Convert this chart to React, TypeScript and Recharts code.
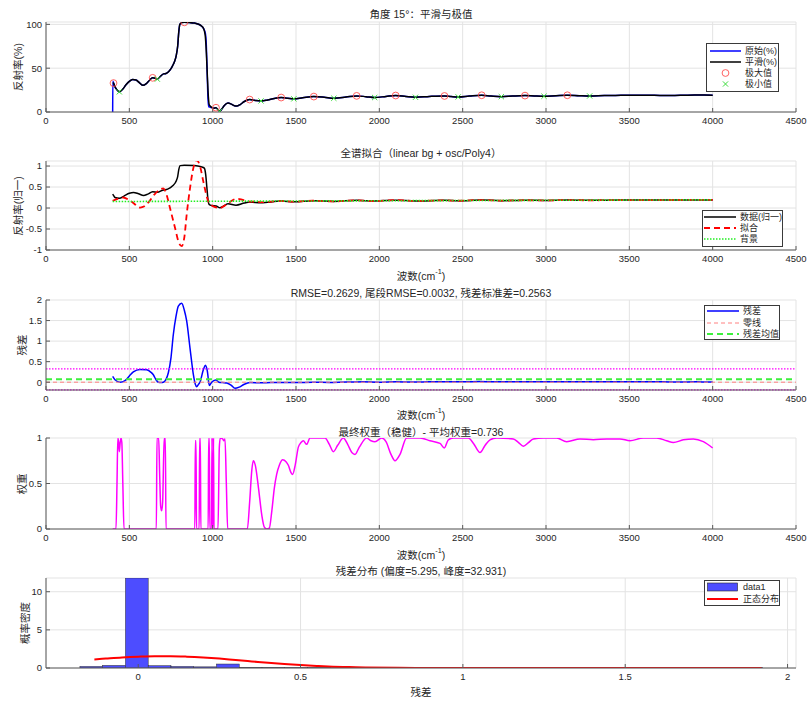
import React from 'react';
import { LineChart, ComposedChart, Line, Bar, XAxis, YAxis, CartesianGrid, ReferenceLine } from 'recharts';

type P = [number, number];

// ---------- data ----------
const wnTicks = [0, 500, 1000, 1500, 2000, 2500, 3000, 3500, 4000, 4500];

const smoothPts: P[] = [
  [400, 33], [405, 33], [412, 29.5], [425, 25.5], [440, 23], [460, 26], [480, 31], [500, 35], [520, 37],
  [540, 36.5], [560, 33.5], [582, 30.4], [600, 32], [620, 36], [640, 39], [655, 38.6], [668, 37.5], [685, 40.5],
  [705, 43.5], [720, 44], [735, 46], [748, 49], [760, 53], [772, 58], [782, 65], [790, 75], [797, 92], [803, 100],
  [815, 102], [830, 102.3], [860, 102], [890, 101.5], [910, 100.5], [930, 98.5], [945, 95.5], [955, 88], [962, 68],
  [968, 42], [974, 18], [980, 8], [990, 6], [1005, 4.3], [1020, 4.9], [1032, 2.5], [1042, 0.8], [1055, 3.5],
  [1070, 7.5], [1092, 10.2], [1112, 9], [1130, 7.2], [1145, 6.8], [1165, 8.5], [1190, 12], [1222, 14.2],
  [1255, 13.2], [1290, 12.6], [1330, 13.8], [1370, 15.5], [1411, 16.5], [1450, 15.8], [1487, 15], [1540, 16.2],
  [1607, 17.6], [1670, 16.8], [1727, 15.7], [1800, 17], [1864, 18.4], [1920, 17.5], [1972, 16.5], [2040, 17.8],
  [2098, 18.8], [2160, 17.6], [2217, 16.8], [2300, 17.7], [2391, 18.3], [2430, 17.7], [2473, 17.2], [2540, 18.2],
  [2614, 19.1], [2670, 18.2], [2732, 17.5], [2800, 18.2], [2874, 18.7], [2930, 18.3], [2988, 18], [3060, 18.6],
  [3128, 19.1], [3200, 18.6], [3262, 18.3], [3350, 18.8], [3450, 19], [3550, 19.2], [3650, 19], [3750, 18.8],
  [3850, 19.2], [3950, 19.3], [4000, 19.2],
];

const rawPts: P[] = [
  [400, 0], [401, 35], [405, 33.4], [412, 29.5], [425, 25.5], [440, 23], [460, 26], [480, 31], [500, 35], [520, 37],
  [540, 36.5], [560, 33.5], [582, 30.4], [600, 32], [620, 36], [640, 39], [655, 38.6], [668, 37.5], [685, 40.5],
  [705, 43.5], [720, 44], [735, 46], [748, 49], [760, 53], [772, 58], [782, 65], [790, 75], [797, 92], [803, 100],
  [815, 102], [830, 102.3], [860, 102], [890, 101.5], [910, 100.5], [930, 98.5], [945, 95.5], [956, 90], [962, 76],
  [967, 45], [972, 15], [977, 6], [986, 5.5], [1005, 4.3], [1020, 4.9], [1032, 2.5], [1042, 0.8], [1055, 3.5],
  [1070, 7.5], [1092, 10.2], [1112, 9], [1130, 7.2], [1145, 6.8], [1165, 8.5], [1190, 12], [1222, 14.2],
  [1255, 13.2], [1290, 12.6], [1330, 13.8], [1370, 15.5], [1411, 16.5], [1450, 15.8], [1487, 15], [1540, 16.2],
  [1607, 17.6], [1670, 16.8], [1727, 15.7], [1800, 17], [1864, 18.4], [1920, 17.5], [1972, 16.5], [2040, 17.8],
  [2098, 18.8], [2160, 17.6], [2217, 16.8], [2300, 17.7], [2391, 18.3], [2430, 17.7], [2473, 17.2], [2540, 18.2],
  [2614, 19.1], [2670, 18.2], [2732, 17.5], [2800, 18.2], [2874, 18.7], [2930, 18.3], [2988, 18], [3060, 18.6],
  [3128, 19.1], [3200, 18.6], [3262, 18.3], [3350, 18.8], [3450, 19], [3550, 19.2], [3650, 19], [3750, 18.8],
  [3850, 19.2], [3950, 19.3], [4000, 19.2],
];

const maximaPts: P[] = [
  [405, 33], [640, 39], [830, 102.3], [1020, 4.9], [1222, 14.2], [1411, 16.5], [1607, 17.6], [1864, 18.4],
  [2098, 18.8], [2391, 18.3], [2614, 19.1], [2874, 18.7], [3128, 19.1],
];
const minimaPts: P[] = [
  [440, 23], [668, 37.5], [1042, 0.8], [1290, 12.6], [1487, 15], [1727, 15.7], [1972, 16.5], [2217, 16.8],
  [2473, 17.2], [2732, 17.5], [2988, 18], [3262, 18.3],
];

const normPts: P[] = [
  [400, 0.33], [405, 0.3], [414, 0.25], [440, 0.23], [470, 0.29], [500, 0.35], [525, 0.37], [555, 0.34],
  [585, 0.3], [610, 0.33], [640, 0.39], [668, 0.375], [700, 0.425], [730, 0.45], [760, 0.53], [782, 0.65],
  [790, 0.75], [797, 0.92], [805, 1.01], [830, 1.02], [890, 1.015], [930, 0.985], [950, 0.95], [958, 0.8],
  [965, 0.5], [972, 0.2], [980, 0.08], [995, 0.06], [1020, 0.05], [1044, 0.005], [1062, 0.04], [1092, 0.1],
  [1140, 0.068], [1190, 0.12], [1222, 0.142], [1290, 0.126], [1411, 0.165], [1487, 0.15], [1607, 0.176],
  [1727, 0.157], [1864, 0.184], [1972, 0.165], [2098, 0.188], [2217, 0.168], [2391, 0.183], [2473, 0.172],
  [2614, 0.191], [2732, 0.175], [2874, 0.187], [2988, 0.18], [3128, 0.191], [3262, 0.183], [3450, 0.19],
  [3650, 0.19], [3850, 0.192], [4000, 0.192],
];

const fitPts: P[] = [
  [400, 0.17], [430, 0.22], [464, 0.25], [495, 0.2], [524, 0.12], [545, 0.05], [565, 0.01], [590, 0.04],
  [620, 0.16], [650, 0.32], [680, 0.43], [704, 0.47], [724, 0.31], [744, 0.0], [774, -0.47], [795, -0.8],
  [814, -0.91], [830, -0.7], [844, -0.16], [864, 0.47], [884, 0.95], [904, 1.14], [924, 1.0], [944, 0.63],
  [974, 0.16], [1004, 0.04], [1044, 0.0], [1084, 0.09], [1144, 0.22], [1175, 0.2], [1210, 0.16], [1250, 0.15],
  [1300, 0.14], [1400, 0.165], [1500, 0.152], [1600, 0.175], [1730, 0.158], [1860, 0.183], [1970, 0.166],
  [2100, 0.187], [2220, 0.169], [2390, 0.182], [2470, 0.173], [2610, 0.19], [2730, 0.176], [2870, 0.186],
  [2990, 0.181], [3130, 0.19], [3260, 0.184], [3450, 0.19], [3650, 0.19], [3850, 0.192], [4000, 0.192],
];

const bgPts: P[] = [[400, 0.155], [4000, 0.195]];

const residPts: P[] = [
  [400, 0.14], [414, 0.06], [444, 0.0], [474, 0.04], [500, 0.15], [524, 0.25], [564, 0.31], [604, 0.3],
  [630, 0.24], [644, 0.18], [660, 0.06], [674, 0.0], [690, -0.01], [704, 0.0], [720, 0.07], [734, 0.23],
  [750, 0.6], [764, 1.16], [780, 1.6], [794, 1.85], [814, 1.92], [830, 1.75], [844, 1.49], [864, 0.83],
  [884, 0.19], [896, -0.05], [904, -0.11], [914, -0.06], [924, 0.0], [944, 0.3], [956, 0.41], [968, 0.27],
  [980, -0.08], [994, 0.0], [1018, 0.055], [1038, 0.0], [1060, -0.01], [1084, -0.02], [1110, -0.07],
  [1134, -0.15], [1160, -0.12], [1190, -0.05], [1224, -0.01], [1300, -0.015], [1400, -0.005], [1500, -0.01],
  [1600, 0.0], [1700, -0.005], [1800, 0.005], [1900, 0.008], [2000, 0.0], [2100, 0.01], [2200, 0.005],
  [2300, 0.008], [2400, 0.012], [2500, 0.008], [2600, 0.015], [2700, 0.01], [2800, 0.012], [2900, 0.008],
  [3000, 0.012], [3100, 0.01], [3200, 0.01], [3300, 0.012], [3400, 0.01], [3500, 0.008], [3600, 0.01],
  [3700, 0.008], [3800, 0.006], [3900, 0.008], [4000, 0.005],
];
const residZero = 0;
const residMean = 0.07;
const residStdBands = [0.326, -0.186];

const weightPts: P[] = [
  [400, 0], [420, 0], [426, 0.5], [431, 1], [436, 0.95], [440, 0.85], [445, 0.95], [450, 1], [455, 0.95],
  [461, 0.5], [468, 0], [662, 0], [666, 1], [676, 1], [682, 0.6], [688, 0.25], [694, 0.2], [700, 0.3],
  [706, 0.8], [710, 1], [716, 1], [720, 0], [893, 0], [896, 0.97], [900, 0.97], [903, 0], [919, 0], [922, 1],
  [926, 1], [929, 0], [973, 0], [976, 1], [980, 1], [983, 0], [993, 0], [996, 1], [999, 0], [1002, 0],
  [1005, 1], [1008, 0], [1032, 0], [1040, 0.9], [1046, 1], [1060, 0.99], [1066, 0.97], [1074, 0.99],
  [1082, 0.5], [1090, 0], [1208, 0], [1222, 0.3], [1235, 0.65], [1244, 0.75], [1256, 0.7], [1275, 0.45],
  [1295, 0.15], [1310, 0.02], [1324, 0], [1340, 0.01], [1355, 0.2], [1370, 0.45], [1384, 0.6], [1400, 0.7],
  [1420, 0.76], [1440, 0.74], [1454, 0.7], [1470, 0.62], [1480, 0.6], [1495, 0.7], [1514, 0.9], [1530, 0.95],
  [1544, 0.97], [1564, 0.93], [1584, 1], [1620, 1], [1674, 1], [1700, 0.93], [1724, 0.85], [1750, 0.92],
  [1784, 1], [1810, 0.93], [1835, 0.84], [1854, 0.82], [1880, 0.9], [1924, 1], [1950, 0.97], [1974, 0.96],
  [2014, 1], [2040, 0.96], [2070, 0.82], [2094, 0.75], [2124, 0.82], [2164, 1], [2244, 1], [2304, 0.97],
  [2364, 0.94], [2390, 0.89], [2414, 0.98], [2444, 1], [2534, 1], [2565, 0.94], [2604, 0.84], [2635, 0.92],
  [2664, 0.98], [2704, 1], [2804, 0.99], [2835, 0.95], [2864, 0.91], [2895, 0.95], [2924, 0.99], [2984, 1],
  [3064, 1], [3124, 0.96], [3204, 0.99], [3284, 0.98], [3364, 0.99], [3444, 0.99], [3504, 0.97], [3584, 1],
  [3664, 1], [3724, 0.97], [3764, 0.95], [3824, 0.98], [3884, 0.99], [3944, 0.96], [4000, 0.89],
];

const binCenters = [
  -0.1445, -0.0744, -0.0043, 0.0658, 0.1359, 0.206, 0.2761, 0.3462, 0.4163, 0.4864, 0.5565, 0.6266, 0.6967,
  0.7668, 0.8369, 0.907, 0.9771, 1.0472, 1.1173, 1.1874, 1.2575, 1.3276, 1.3977, 1.4678, 1.5379, 1.608,
  1.6781, 1.7482, 1.8183, 1.8884,
];
const binDensity = [
  0.2, 0.34, 11.8, 0.3, 0.2, 0.15, 0.52, 0.06, 0.05, 0.04, 0.04, 0.03, 0.03, 0.03, 0.03, 0.03, 0.03, 0.03,
  0.03, 0.03, 0.03, 0.03, 0.03, 0.03, 0.03, 0.04, 0.04, 0.04, 0.05, 0.06,
];
const binWidth = 0.0701;

const normalPdfPts: P[] = [
  [-0.135, 1.13], [-0.1, 1.24], [-0.05, 1.39], [0, 1.49], [0.05, 1.55], [0.1, 1.55], [0.15, 1.49], [0.2, 1.38],
  [0.25, 1.23], [0.3, 1.04], [0.35, 0.86], [0.4, 0.68], [0.45, 0.52], [0.5, 0.38], [0.55, 0.27], [0.6, 0.18],
  [0.65, 0.12], [0.7, 0.077], [0.8, 0.029], [0.9, 0.009], [1.0, 0.002], [1.1, 0.0005], [1.3, 0], [1.6, 0],
  [1.92, 0],
];

const titles = [
  '角度 15°：平滑与极值',
  '全谱拟合（linear bg + osc/Poly4）',
  'RMSE=0.2629, 尾段RMSE=0.0032, 残差标准差=0.2563',
  '最终权重（稳健）- 平均权重=0.736',
  '残差分布 (偏度=5.295, 峰度=32.931)',
];

// ---------- helpers ----------
const rows = (pts: P[]) => pts.map(([x, y]) => ({ x, y }));
const FONT = "'Liberation Sans', Arial, 'Noto Sans CJK SC', sans-serif";
const TXT = '#262626';
const AX = '#5a5a5a';
const GRID = '#e3e3e3';
const W = 807;
const PL = 46;
const PR = 796;
const MT = 10;

interface FrameCfg { xd: [number, number]; xt: number[]; yd: [number, number]; yt: number[] }

function frame(c: FrameCfg) {
  const tickStyle = { fontSize: 9.5, fill: TXT, fontFamily: FONT };
  return [
    <CartesianGrid key="grid" stroke={GRID} strokeWidth={1} />,
    <XAxis key="xb" xAxisId={0} dataKey="x" type="number" domain={c.xd} ticks={c.xt} interval={0}
      allowDataOverflow height={30} stroke={AX} tickSize={-4} tickMargin={9} tick={tickStyle} />,
    <XAxis key="xt" xAxisId="top" orientation="top" dataKey="x" type="number" domain={c.xd} ticks={c.xt}
      interval={0} allowDataOverflow height={0} stroke={AX} tickSize={-4} tick={false} />,
    <YAxis key="yl" yAxisId={0} type="number" domain={c.yd} ticks={c.yt} interval={0} allowDataOverflow
      width={PL - 6} stroke={AX} tickSize={-4} tickMargin={8} tick={tickStyle} />,
    <YAxis key="yr" yAxisId="right" orientation="right" type="number" domain={c.yd} ticks={c.yt} interval={0}
      allowDataOverflow width={0} stroke={AX} tickSize={-4} tick={false} />,
  ];
}

const margin = { top: MT, right: W - PR, bottom: 0, left: 6 };

function Txt(props: { x: number; y: number; children: React.ReactNode; size?: number; rot?: boolean }) {
  const { x, y, children, size = 10.5, rot = false } = props;
  return (
    <div style={{
      position: 'absolute', left: x, top: y, transform: `translate(-50%,-50%)${rot ? ' rotate(-90deg)' : ''}`,
      fontSize: size, fontFamily: FONT, color: TXT, whiteSpace: 'nowrap', lineHeight: 1,
    }}>{children}</div>
  );
}

const WaveLabel = () => (
  <span>波数(cm<sup style={{ fontSize: '70%', verticalAlign: 'top', position: 'relative', top: -3 }}>-1</sup>)</span>
);

type Kind = 'line' | 'dash' | 'dot' | 'circle' | 'cross' | 'patch';
interface LegItem { label: string; kind: Kind; color: string; width?: number; dash?: string }

function swatch(it: LegItem, w: number) {
  const cy = 6;
  if (it.kind === 'circle') return <circle cx={w / 2} cy={cy} r={3.4} fill="none" stroke={it.color} strokeWidth={0.9} />;
  if (it.kind === 'cross') {
    const s = 2.6; const cx = w / 2;
    return (
      <g stroke={it.color} strokeWidth={1}>
        <line x1={cx - s} y1={cy - s} x2={cx + s} y2={cy + s} />
        <line x1={cx - s} y1={cy + s} x2={cx + s} y2={cy - s} />
      </g>
    );
  }
  if (it.kind === 'patch') return <rect x={0.5} y={2} width={w - 1} height={8} fill={it.color} stroke="#262626" strokeWidth={0.6} />;
  return <line x1={0} y1={cy} x2={w} y2={cy} stroke={it.color} strokeWidth={it.width ?? 1.5} strokeDasharray={it.dash} />;
}

function LegendBox(props: { x: number; y: number; w: number; h: number; sx: number; sw: number; tx: number; c0: number; step: number; items: LegItem[] }) {
  const { x, y, w, h, sx, sw, tx, c0, step, items } = props;
  return (
    <div style={{ position: 'absolute', left: x, top: y, width: w, height: h, border: '1px solid #3a3a3a', background: '#fff', boxSizing: 'border-box' }}>
      {items.map((it, i) => {
        const cy = c0 + step * i - 1;
        return (
          <React.Fragment key={i}>
            <svg style={{ position: 'absolute', left: sx - 1, top: cy - 6 }} width={sw} height={12}>{swatch(it, sw)}</svg>
            <div style={{ position: 'absolute', left: tx - 1, top: cy - 6, height: 12, lineHeight: '12px', fontSize: 9, fontFamily: FONT, color: TXT, whiteSpace: 'nowrap' }}>{it.label}</div>
          </React.Fragment>
        );
      })}
    </div>
  );
}

const circleDot = (p: any) => (p.cx == null ? <g key={`c${p.index}`} /> :
  <circle key={`c${p.index}`} cx={p.cx} cy={p.cy} r={3.4} fill="none" stroke="#ff5050" strokeWidth={0.9} />);
const crossDot = (p: any) => {
  if (p.cx == null) return <g key={`x${p.index}`} />;
  const s = 2.6;
  return (
    <g key={`x${p.index}`} stroke="#3ddc3d" strokeWidth={1}>
      <line x1={p.cx - s} y1={p.cy - s} x2={p.cx + s} y2={p.cy + s} />
      <line x1={p.cx - s} y1={p.cy + s} x2={p.cx + s} y2={p.cy - s} />
    </g>
  );
};

function Panel(props: { top: number; h: number; children: React.ReactNode }) {
  return <div style={{ position: 'absolute', left: 0, top: props.top - MT }}>{props.children}</div>;
}

const common = { dot: false, activeDot: false, isAnimationActive: false, dataKey: 'y' } as const;

export default function App() {
  const p1 = { top: 22, h: 90 };
  const p2 = { top: 161, h: 89 };
  const p3 = { top: 300, h: 90 };
  const p4 = { top: 438, h: 91 };
  const p5 = { top: 578, h: 90 };
  const histDomain: [number, number] = [-0.284, 2.026];
  const barPx = ((PR - PL) * binWidth) / (histDomain[1] - histDomain[0]);
  const histRows = binCenters.map((x, i) => ({ x, y: binDensity[i] }));

  const histShape = (p: any) => {
    if (p.x == null || p.height == null) return <g />;
    const cx = p.x + (p.width || 0) / 2;
    return (
      <rect x={cx - barPx / 2} y={p.y} width={barPx} height={Math.max(p.height, 0.4)}
        fill="#4d4dff" fillOpacity={1} stroke="#2a2a2a" strokeWidth={0.5} />
    );
  };

  return (
    <div style={{ position: 'absolute', left: 0, top: 0, width: W, height: 702, background: '#fff', overflow: 'hidden' }}>
      {/* Panel 1 */}
      <Panel {...p1}>
        <LineChart width={W} height={p1.h + MT + 30} margin={margin}>
          {frame({ xd: [0, 4500], xt: wnTicks, yd: [0, 102.7], yt: [0, 50, 100] })}
          <Line {...common} data={rows(rawPts)} type="monotone" stroke="#0000ff" strokeWidth={1.5} />
          <Line {...common} data={rows(smoothPts)} type="monotone" stroke="#000000" strokeWidth={1.5} />
          <Line {...common} data={rows(maximaPts)} stroke="none" strokeWidth={0} dot={circleDot} />
          <Line {...common} data={rows(minimaPts)} stroke="none" strokeWidth={0} dot={crossDot} />
        </LineChart>
      </Panel>
      {/* Panel 2 */}
      <Panel {...p2}>
        <LineChart width={W} height={p2.h + MT + 30} margin={margin}>
          {frame({ xd: [0, 4500], xt: wnTicks, yd: [-1, 1.12], yt: [-1, -0.5, 0, 0.5, 1] })}
          <Line {...common} data={rows(normPts)} type="monotone" stroke="#000000" strokeWidth={1.5} />
          <Line {...common} data={rows(fitPts)} type="monotone" stroke="#ff0000" strokeWidth={1.8} strokeDasharray="6 4" />
          <Line {...common} data={rows(bgPts)} type="linear" stroke="#22ee22" strokeWidth={1.6} strokeDasharray="1.5 1.5" />
        </LineChart>
      </Panel>
      {/* Panel 3 */}
      <Panel {...p3}>
        <LineChart width={W} height={p3.h + MT + 30} margin={margin}>
          {frame({ xd: [0, 4500], xt: wnTicks, yd: [-0.19, 2], yt: [0, 0.5, 1, 1.5, 2] })}
          <Line {...common} data={rows(residPts)} type="monotone" stroke="#0000ff" strokeWidth={1.5} />
          <ReferenceLine y={residZero} stroke="#ff8080" strokeWidth={1} strokeDasharray="4 3" />
          <ReferenceLine y={residMean} stroke="#3cf03c" strokeWidth={2} strokeDasharray="6 4" />
          {residStdBands.map((v, i) => (
            <ReferenceLine key={i} y={v} stroke="#ff00ff" strokeWidth={1.2} strokeDasharray="1.5 1.5" />
          ))}
        </LineChart>
      </Panel>
      {/* Panel 4 */}
      <Panel {...p4}>
        <LineChart width={W} height={p4.h + MT + 30} margin={margin}>
          {frame({ xd: [0, 4500], xt: wnTicks, yd: [0, 1], yt: [0, 0.5, 1] })}
          <Line {...common} data={rows(weightPts)} type="monotone" stroke="#ff00ff" strokeWidth={1.5} />
        </LineChart>
      </Panel>
      {/* Panel 5 */}
      <Panel {...p5}>
        <ComposedChart width={W} height={p5.h + MT + 30} margin={margin} data={histRows}>
          {frame({ xd: histDomain, xt: [0, 0.5, 1, 1.5, 2], yd: [0, 11.8], yt: [0, 5, 10] })}
          <Bar dataKey="y" fill="#4d4dff" isAnimationActive={false} shape={histShape} />
          <Line {...common} data={rows(normalPdfPts)} type="monotone" stroke="#ff0000" strokeWidth={2} />
        </ComposedChart>
      </Panel>

      {/* titles */}
      <Txt x={421} y={14}>{titles[0]}</Txt>
      <Txt x={421} y={153}>{titles[1]}</Txt>
      <Txt x={421} y={292.5}>{titles[2]}</Txt>
      <Txt x={421} y={431.5}>{titles[3]}</Txt>
      <Txt x={421} y={571}>{titles[4]}</Txt>

      {/* x labels */}
      <Txt x={421} y={276}><WaveLabel /></Txt>
      <Txt x={421} y={415}><WaveLabel /></Txt>
      <Txt x={421} y={555}><WaveLabel /></Txt>
      <Txt x={421} y={691.5}>残差</Txt>

      {/* y labels */}
      <Txt x={18} y={67} rot>反射率(%)</Txt>
      <Txt x={18} y={205.5} rot>反射率(归一)</Txt>
      <Txt x={22} y={345} rot>残差</Txt>
      <Txt x={22} y={484} rot>权重</Txt>
      <Txt x={25} y={623} rot>概率密度</Txt>

      {/* legends */}
      <LegendBox x={706} y={43} w={73} h={49} sx={4} sw={31} tx={39} c0={7.7} step={11.2} items={[
        { label: '原始(%)', kind: 'line', color: '#0000ff' },
        { label: '平滑(%)', kind: 'line', color: '#000000' },
        { label: '极大值', kind: 'circle', color: '#ff5050' },
        { label: '极小值', kind: 'cross', color: '#3ddc3d' },
      ]} />
      <LegendBox x={702} y={210} w={81} h={37} sx={2} sw={32} tx={38} c0={6.7} step={11.3} items={[
        { label: '数据(归一)', kind: 'line', color: '#000000' },
        { label: '拟合', kind: 'dash', color: '#ff0000', width: 1.8, dash: '6 4' },
        { label: '背景', kind: 'dot', color: '#22ee22', width: 1.6, dash: '1.5 1.5' },
      ]} />
      <LegendBox x={704} y={305} w={76} h={35} sx={3} sw={32} tx={39} c0={5.9} step={11.65} items={[
        { label: '残差', kind: 'line', color: '#0000ff' },
        { label: '零线', kind: 'dash', color: '#ff8080', width: 1, dash: '4 3' },
        { label: '残差均值', kind: 'dash', color: '#3cf03c', width: 2, dash: '6 4' },
      ]} />
      <LegendBox x={704} y={580} w={76} h={26} sx={3} sw={31} tx={39} c0={7.3} step={11.7} items={[
        { label: 'data1', kind: 'patch', color: '#4d4dff' },
        { label: '正态分布', kind: 'line', color: '#ff0000', width: 2 },
      ]} />
    </div>
  );
}
